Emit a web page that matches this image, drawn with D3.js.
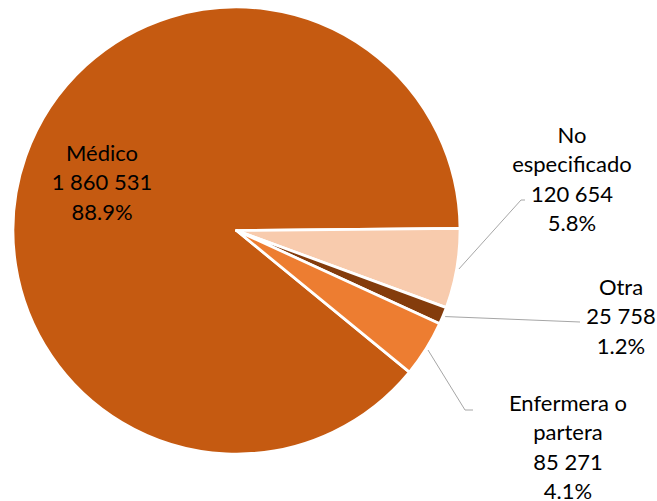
<!DOCTYPE html>
<html>
<head>
<meta charset="utf-8">
<script src="https://cdn.jsdelivr.net/npm/d3@7"></script>
<style>
  body { margin: 0; background: #fff; }
  text { font-family: Lato, "Open Sans", sans-serif; font-size: 22px; fill: #000; }
</style>
</head>
<body>
<div id="chart"></div>
<script>
// données (sens horaire à partir de Médico)
const categories = ["Médico", "No especificado", "Otra", "Enfermera o partera"];
const valores = [1860531, 120654, 25758, 85271];
const etiquetas = [["Médico"], ["No", "especificado"], ["Otra"], ["Enfermera o", "partera"]];
const colores = ["#C55A11", "#F8CBAD", "#843C0C", "#ED7D31"];

const width = 657, height = 501;
const cx = 236.5, cy = 230.5, radius = 223.5;

const svg = d3.select("#chart").append("svg")
    .attr("width", width)
    .attr("height", height);

const g = svg.append("g").attr("transform", "translate(" + cx + "," + cy + ")");

const total = d3.sum(valores);
const data = categories.map((c, i) => ({ cat: c, val: valores[i], lines: etiquetas[i], color: colores[i] }));

const start = 129.3 * Math.PI / 180;
const pie = d3.pie().sort(null).value(d => d.val)
    .startAngle(start).endAngle(start + 2 * Math.PI);

const arc = d3.arc().innerRadius(0).outerRadius(radius);
const arcs = pie(data);

g.selectAll("path.slice")
    .data(arcs)
    .join("path")
    .attr("class", "slice")
    .attr("d", arc)
    .attr("fill", d => d.data.color)
    .attr("stroke", "#fff")
    .attr("stroke-width", 2.75)
    .attr("stroke-linejoin", "round");

const fmt = d3.formatLocale({ decimal: ".", thousands: " ", grouping: [3], currency: ["", ""] });
const fmtNum = fmt.format(",d");
const fmtPct = fmt.format(".1%");

// position des étiquettes (centre de la première ligne) et lignes de rappel
const labelPos = [
    { x: 102, y: 153, leader: null },
    { x: 572, y: 135, leader: [[521, 200], [525, 200]] },
    { x: 621, y: 287, leader: [[580, 322]] },
    { x: 568, y: 403, leader: [[465, 410], [473, 410]] }
];
const lineH = 29.5;
const leaderArc = d3.arc().innerRadius(radius * 1.01).outerRadius(radius * 1.01);

arcs.forEach((a, i) => {
    const p = labelPos[i];
    if (p.leader) {
        const c = leaderArc.centroid(a);
        const pts = [[c[0] + cx, c[1] + cy]].concat(p.leader);
        svg.append("path")
            .attr("d", d3.line()(pts))
            .attr("fill", "none")
            .attr("stroke", "#A6A6A6")
            .attr("stroke-width", 1);
    }
    const lines = a.data.lines.concat([fmtNum(a.data.val), fmtPct(a.data.val / total)]);
    const t = svg.append("text").attr("text-anchor", "middle");
    lines.forEach((l, k) => {
        t.append("tspan")
            .attr("x", p.x)
            .attr("y", p.y + k * lineH)
            .attr("dy", "0.36em")
            .text(l);
    });
});
</script>
</body>
</html>
